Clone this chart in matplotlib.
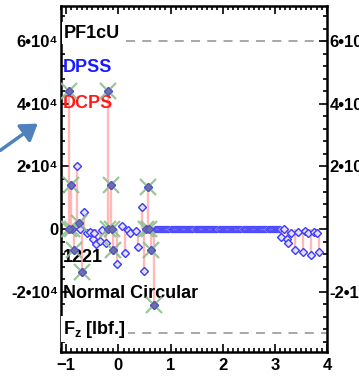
import numpy as np
import matplotlib
matplotlib.use("Agg")
import matplotlib.pyplot as plt
from matplotlib.ticker import MultipleLocator, FuncFormatter
from matplotlib.patches import FancyArrowPatch

plt.rcParams['font.family'] = ['Liberation Sans', 'DejaVu Sans']
plt.rcParams['font.weight'] = 'bold'
plt.rcParams['mathtext.fontset'] = 'custom'
plt.rcParams['mathtext.rm'] = 'Liberation Sans:bold'
plt.rcParams['mathtext.bf'] = 'Liberation Sans:bold'

# ---- data -------------------------------------------------------------
# DPSS / DCPS samples, force Fz [lbf.] versus position
dpss_x = [-0.95, -0.94, -0.90, -0.88, -0.86, -0.79, -0.75, -0.73, -0.69,
          -0.65, -0.60, -0.55, -0.48, -0.47, -0.42, -0.36, -0.31, -0.24,
          -0.20, -0.19, -0.15, -0.12, -0.10, -0.03, 0.07, 0.12, 0.19,
          0.23, 0.33, 0.37, 0.45, 0.50, 0.53, 0.56, 0.58, 0.62, 0.68,
          3.12, 3.17, 3.23, 3.25, 3.31, 3.38, 3.44, 3.54, 3.58, 3.63,
          3.69, 3.75, 3.80, 3.85]
dpss_y = [0, 44000, 14200, 0, -6700, 20000, 2000, 0, -13700,
          5400, -1300, -900, -3200, -1300, -4800, -3800, -300, -4500,
          0, 44000, 14000, 0, -6700, -11200, 1000, -7700, -300,
          -1300, -600, -5800, 7000, -13400, 0, 13600, 0, -6700, -24300,
          -2500, 0, -3000, -4500, -1300, -6700, -1000, -7300, -600, -1300,
          -8300, -1000, -1300, -7300]

# peak samples flagged with crosses
peak_x = [-0.94, -0.90, -0.88, -0.95, -0.86, -0.75, -0.69, -0.20, -0.19,
          -0.15, -0.12, -0.10, 0.53, 0.56, 0.58, 0.62, 0.68]
peak_y = [44000, 14200, 0, 0, -6700, 2000, -13700, 0, 44000,
          14000, 0, -6700, 0, 13600, 0, -6700, -24300]

# quiet stretch between the two active regions
flat_x = np.arange(0.70, 3.10, 0.02)
flat_y = np.zeros_like(flat_x)

upper_limit = 60000
lower_limit = -33000

y_ticks = [-20000, 0, 20000, 40000, 60000]
y_tick_labels = ['-2•10⁴', '0', '2•10⁴', '4•10⁴', '6•10⁴']
x_ticks = [-1, 0, 1, 2, 3, 4]

# ---- figure -------------------------------------------------------------
W, H = 359, 379
fig = plt.figure(figsize=(W / 100, H / 100), dpi=100)
left, right, top, bottom = 61, 327, 6, 352
ax = fig.add_axes([left / W, 1 - bottom / H, (right - left) / W, (bottom - top) / H])

ax.set_xlim(-1.1, 4.0)
ax.set_ylim(-39200, 71200)

# limit lines
ax.axhline(upper_limit, color='#a0a0a0', lw=1.3, ls=(0, (5, 4)), zorder=1)
ax.axhline(lower_limit, color='#a0a0a0', lw=1.3, ls=(0, (5, 4)), zorder=1)

# DCPS stems
ax.vlines(dpss_x, 0, dpss_y, color='#ff8080', alpha=0.55, lw=1.7, zorder=2)

# DPSS markers
ax.plot(flat_x, flat_y, ls='none', marker='D', ms=3.3, mfc='#c8c8ff',
        mec='#4a4aff', mew=0.8, zorder=3)
ax.plot(flat_x, flat_y, color='#ff6060', lw=0.9, ls=(0, (3, 4)), alpha=0.7,
        zorder=3.5)
ax.plot(dpss_x, dpss_y, ls='none', marker='D', ms=3.8, mfc='#e8e0ff',
        mec='#3a3aff', mew=1.0, zorder=4)

# peak crosses
ax.plot(peak_x, peak_y, ls='none', marker='x', ms=11, mec='#90c090', mew=1.6,
        alpha=0.9, zorder=5)
ax.plot(peak_x, peak_y, ls='none', marker='D', ms=3.8, mfc='#7070a8',
        mec='#5050c0', mew=0.8, zorder=6)

# ---- axes styling ---------------------------------------------------------
for s in ax.spines.values():
    s.set_linewidth(1.8)

ax.set_xticks(x_ticks)
ax.xaxis.set_minor_locator(MultipleLocator(0.1))
ax.set_yticks(y_ticks)
ax.yaxis.set_minor_locator(MultipleLocator(4000))

ax.tick_params(which='both', direction='in', top=True, right=True,
               width=1.2, labelsize=12)
ax.tick_params(which='major', length=6, pad=4)
ax.tick_params(which='minor', length=3)
ax.tick_params(axis='y', labelright=True, pad=2)

ax.yaxis.set_major_formatter(FuncFormatter(
    lambda v, p: dict(zip(y_ticks, y_tick_labels)).get(int(round(v)), '')))
for lab in ax.get_xticklabels() + ax.get_yticklabels():
    lab.set_fontweight('bold')
# right-hand labels leave out zero
for t in ax.yaxis.get_major_ticks():
    t.label1.set_fontweight('bold')
    t.label2.set_fontweight('bold')
    if abs(t.get_loc()) < 1:
        t.label2.set_visible(False)

# ---- annotations ----------------------------------------------------------
txt = dict(transform=ax.transAxes, fontsize=13, fontweight='bold',
           ha='left', va='center')
box = dict(facecolor='white', edgecolor='none', pad=1.5)
span = bottom - top
ax.text(0.012, 1 - (33 - top) / span, 'PF1cU', color='black', bbox=box, **txt)
ax.text(0.008, 1 - (68 - top) / span, 'DPSS', color='#1a1aff', **txt)
ax.text(0.008, 1 - (104 - top) / span, 'DCPS', color='#ff1a1a', **txt)
ax.text(0.008, 1 - (258 - top) / span, '1221', color='black', **txt)
ax.text(0.008, 1 - (293 - top) / span, 'Normal Circular', color='black', **txt)
ax.text(0.008, 1 - (329 - top) / span, r'F$_\mathbf{z}$ [lbf.]',
        color='black', bbox=box, **txt)

arrow = FancyArrowPatch((-2, H - 152), (40, H - 122), transform=None,
                        arrowstyle='-|>,head_length=6,head_width=4',
                        color='#4f81bd', lw=2.5, mutation_scale=1.6)
fig.add_artist(arrow)

fig.savefig('out.png', dpi=100)
